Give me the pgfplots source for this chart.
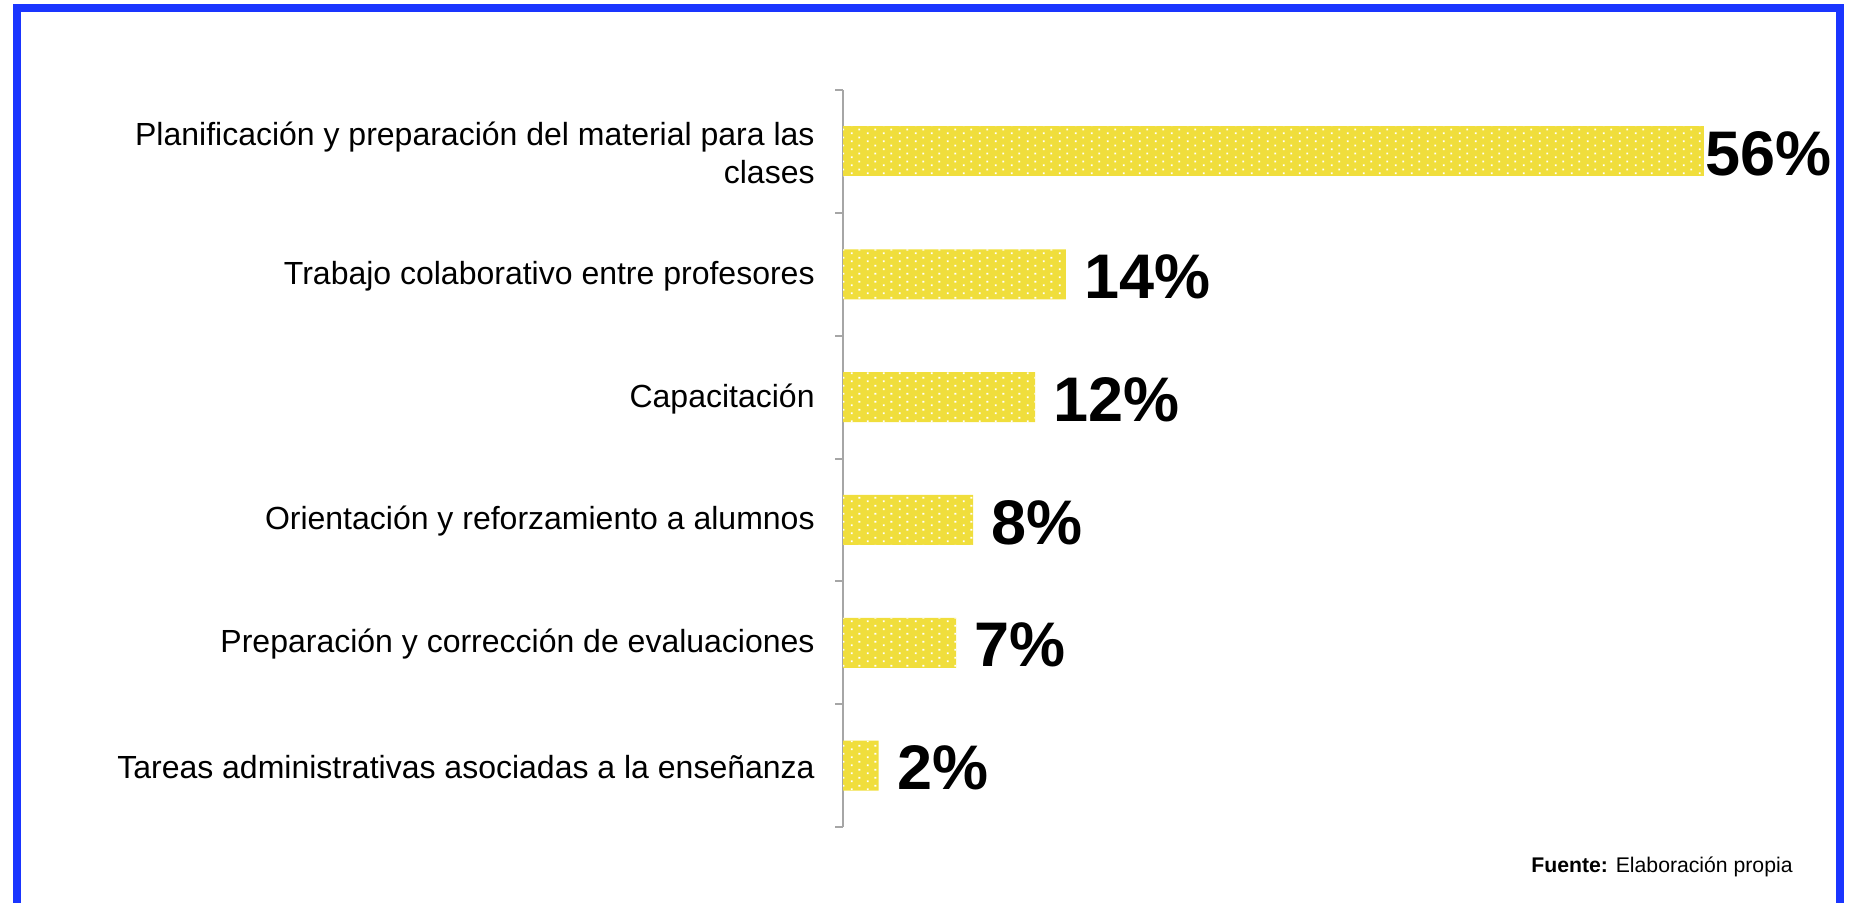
\documentclass[border=0pt]{standalone}
\usepackage{fontspec}
\setmainfont{Liberation Sans}
\usepackage{pgfplots}
\pgfplotsset{compat=1.18}
\usetikzlibrary{patterns.meta}
\definecolor{baryellow}{RGB}{240,222,60}
\definecolor{borderblue}{RGB}{26,53,255}
\definecolor{axisgray}{RGB}{166,166,166}
\pgfdeclarepattern{name=wdots, bottom left={\pgfpoint{0pt}{0pt}}, top right={\pgfpoint{8pt}{4pt}}, tile size={\pgfpoint{8pt}{4pt}},
 code={\pgfpathrectangle{\pgfpoint{1.5pt}{0.5pt}}{\pgfpoint{1pt}{1pt}}\pgfpathrectangle{\pgfpoint{5.5pt}{2.5pt}}{\pgfpoint{1pt}{1pt}}\pgfusepath{fill}}}
\begin{document}
\begin{tikzpicture}
\useasboundingbox (0,0) rectangle (925.5pt,451pt);
\draw[borderblue, line width=4pt] (8.5pt,-5pt) -- (8.5pt,446.75pt) -- (920pt,446.75pt) -- (920pt,-5pt);
\begin{axis}[
 at={(421.5pt,37.5pt)}, anchor=south west,
 scale only axis, width=430.5pt, height=368.5pt,
 xmin=0, xmax=55.6, ymin=-0.5, ymax=5.5,
 hide x axis, axis y line*=left,
 axis line style={draw=axisgray, line width=1pt},
 ytick={0,...,5},
 yticklabels={Tareas administrativas asociadas a la enseñanza, Preparación y corrección de evaluaciones, Orientación y reforzamiento a alumnos, Capacitación, Trabajo colaborativo entre profesores, {Planificación y preparación del material para las\\clases}},
 major tick length=0pt, minor ytick={-0.5,0.5,...,5.5}, minor tick length=4pt, tick align=outside,
 every tick/.style={draw=axisgray, line width=1pt},
 yticklabel style={font=\fontsize{16}{18.9}\selectfont, align=right, inner sep=0pt, xshift=-14pt, yshift=-0.8pt},
 /pgf/number format/assume math mode=true,
 xbar, bar width=25pt, bar shift=0pt,
 clip=false,
 point meta=x,
 nodes near coords={\pgfmathprintnumber[fixed, precision=0]{\pgfplotspointmeta}\%},
 every node near coord/.append style={font=\bfseries\fontsize{31.5}{31.5}\selectfont, anchor=west, inner sep=0pt, yshift=-1.2pt},
]
\addplot[draw=none, fill=baryellow, postaction={pattern=wdots, pattern color=white}, every node near coord/.append style={xshift=9pt}]
 coordinates {(2.3,0) (7.3,1) (8.4,2) (12.4,3) (14.4,4)};
\addplot[draw=none, fill=baryellow, postaction={pattern=wdots, pattern color=white}, every node near coord/.append style={xshift=0.5pt}]
 coordinates {(55.6,5)};
\end{axis}
\node[anchor=base east, inner sep=0pt, font=\fontsize{10.6}{12}\selectfont] at (896.5pt,15pt) {\textbf{Fuente:} Elaboración propia};
\end{tikzpicture}
\end{document}
